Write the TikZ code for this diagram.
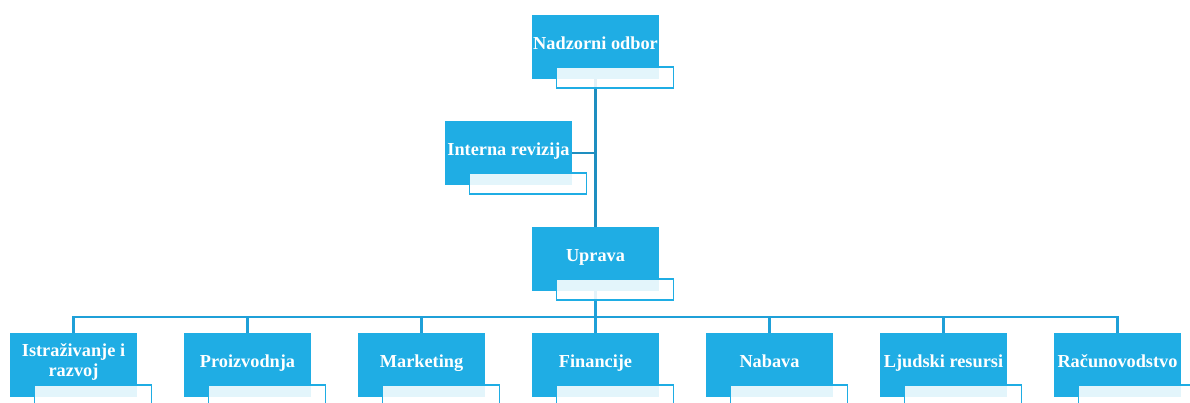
\documentclass[tikz,border=0pt]{standalone}
\usepackage{fontspec}
\setmainfont{Liberation Serif}
\definecolor{boxblue}{HTML}{1FADE4}
\definecolor{trunkblue}{HTML}{1E8EC0}
\definecolor{busblue}{HTML}{1FA0D8}
\begin{document}
\begin{tikzpicture}[x=1pt,y=-1pt,
  bluebox/.style={fill=boxblue, draw=none, minimum width=127pt, minimum height=64pt, inner sep=0pt},
  subbox/.style={fill=white, fill opacity=0.88, draw=boxblue, line width=1.6pt, minimum width=117pt, minimum height=21pt, inner sep=0pt},
  lbl/.style={text=white, font=\bfseries\fontsize{18.3}{20}\selectfont, align=center, inner sep=0pt},
  trunk/.style={draw=trunkblue, line width=2.8pt},
  bus/.style={draw=busblue, line width=2.4pt},
]
\useasboundingbox (0,0) rectangle (1190,403);
\clip (0,0) rectangle (1190,403);
\path
  (595.5,47) coordinate (nadC)
  (508.5,153) coordinate (intC)
  (595.5,259) coordinate (uprC);
\foreach \i/\x in {1/73.5,2/247.5,3/421.5,4/595.5,5/769.5,6/943.5,7/1117.5}
  \path (\x,365) coordinate (b\i C);
\coordinate (bus) at (595.5,317);
% connectors
\draw[trunk] (nadC) -- (uprC);
\draw[trunk] (intC) -- (intC -| nadC);
\draw[bus] (uprC) -- (bus);
\draw[bus] (b1C) |- (bus) -| (b7C);
\foreach \i in {2,3,4,5,6} \draw[bus] (b\i C) -- (b\i C |- bus);
% boxes
\node[bluebox] (nad) at (nadC) {};
\node[subbox] (nadS) at ([shift={(19.5,30.5)}]nad.center) {};
\node[bluebox] (int) at (intC) {};
\node[subbox] (intS) at ([shift={(19.5,30.5)}]int.center) {};
\node[bluebox] (upr) at (uprC) {};
\node[subbox] (uprS) at ([shift={(19.5,30.5)}]upr.center) {};
\foreach \i in {1,...,7} {
  \node[bluebox] (b\i) at (b\i C) {};
  \node[subbox] (b\i S) at ([shift={(19.5,30.5)}]b\i.center) {};
}
% labels
\node[lbl, anchor=base] (nadT) at ([yshift=-34.5]nad.north) {Nadzorni odbor};
\node[lbl, anchor=base] (intT) at ([yshift=-34.5]int.north) {Interna revizija};
\node[lbl, anchor=base] (uprT) at ([yshift=-35]upr.north) {Uprava};
\node[lbl] (b1T) at ([yshift=3]b1.center) {Istraživanje i\\razvoj};
\node[lbl, anchor=base] (b2T) at ([yshift=-34.5]b2.north) {Proizvodnja};
\node[lbl, anchor=base] (b3T) at ([yshift=-34.5]b3.north) {Marketing};
\node[lbl, anchor=base] (b4T) at ([yshift=-34.5]b4.north) {Financije};
\node[lbl, anchor=base] (b5T) at ([yshift=-34.5]b5.north) {Nabava};
\node[lbl, anchor=base] (b6T) at ([yshift=-34.5]b6.north) {Ljudski resursi};
\node[lbl, anchor=base] (b7T) at ([yshift=-34.5]b7.north) {Računovodstvo};
\end{tikzpicture}
\end{document}
